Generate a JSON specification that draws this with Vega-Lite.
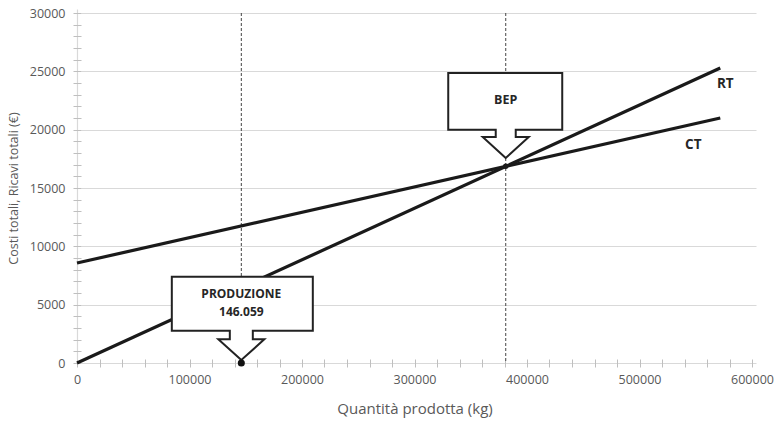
{
  "$schema": "https://vega.github.io/schema/vega-lite/v6.json",
  "width": 675,
  "height": 350,
  "autosize": {"type": "none"},
  "padding": {"left": 77, "top": 13, "right": 26, "bottom": 62},
  "background": "white",
  "config": {
    "view": {"stroke": null},
    "font": "Open Sans",
    "axis": {
      "labelFont": "Open Sans",
      "titleFont": "Open Sans",
      "labelColor": "#595959",
      "titleColor": "#595959",
      "labelFontSize": 12.5,
      "titleFontWeight": "normal",
      "domain": false,
      "tickColor": "#bfbfbf",
      "tickSize": 8,
      "tickCount": 100,
      "offset": -4,
      "gridColor": "#d9d9d9",
      "gridWidth": 1.2,
      "labelOverlap": false,
      "labelFlush": false
    }
  },
  "datasets": {
    "lines": [
      {"serie": "CT", "q": 0, "v": 8570},
      {"serie": "CT", "q": 571800, "v": 21000},
      {"serie": "RT", "q": 0, "v": 0},
      {"serie": "RT", "q": 571800, "v": 25290}
    ],
    "vlines": [{"q": 146059}, {"q": 381100}],
    "bep": [{"q": 381100, "v": 16855, "label": "BEP"}],
    "prod": [{"q": 146059, "v": 0, "label": ["PRODUZIONE", "146.059"]}],
    "rtend": [{"serie": "RT", "q": 571800, "v": 25290}],
    "ctend": [{"serie": "CT", "q": 571800, "v": 21000}]
  },
  "layer": [
    {
      "data": {"name": "vlines"},
      "mark": {"type": "rule", "color": "#444444", "strokeWidth": 1, "strokeDash": [3, 2]},
      "encoding": {
        "x": {
          "field": "q", "type": "quantitative",
          "scale": {"domain": [0, 600000], "nice": false, "zero": false},
          "axis": {
            "title": "Quantità prodotta (kg)",
            "titleFontSize": 15,
            "titlePadding": 16,
            "labelPadding": 6,
            "values": [0,20000,40000,60000,80000,100000,120000,140000,160000,180000,200000,220000,240000,260000,280000,300000,320000,340000,360000,380000,400000,420000,440000,460000,480000,500000,520000,540000,560000,580000,600000],
            "labelExpr": "datum.value % 100000 === 0 ? format(datum.value, 'd') : ''",
            "grid": true,
            "gridOpacity": {"condition": {"test": "datum.value === 0", "value": 1}, "value": 0}
          }
        }
      }
    },
    {
      "data": {"name": "lines"},
      "mark": {"type": "line", "color": "#1a1a1a", "strokeWidth": 3.2},
      "encoding": {
        "x": {"field": "q", "type": "quantitative"},
        "y": {
          "field": "v", "type": "quantitative",
          "scale": {"domain": [0, 30000], "nice": false},
          "axis": {
            "title": "Costi totali, Ricavi totali (€)",
            "titleFontSize": 12.5,
            "titlePadding": 9,
            "labelPadding": 8,
            "values": [0,1000,2000,3000,4000,5000,6000,7000,8000,9000,10000,11000,12000,13000,14000,15000,16000,17000,18000,19000,20000,21000,22000,23000,24000,25000,26000,27000,28000,29000,30000],
            "labelExpr": "datum.value % 5000 === 0 ? format(datum.value, 'd') : ''",
            "grid": true,
            "gridOpacity": {"condition": {"test": "datum.value % 5000 === 0", "value": 1}, "value": 0}
          }
        },
        "detail": {"field": "serie"}
      }
    },
    {
      "data": {"name": "bep"},
      "mark": {"type": "point", "filled": true, "color": "#1a1a1a", "size": 30, "opacity": 1},
      "encoding": {
        "x": {"field": "q", "type": "quantitative"},
        "y": {"field": "v", "type": "quantitative"}
      }
    },
    {
      "data": {"name": "bep"},
      "mark": {
        "type": "point", "filled": true, "fill": "white", "stroke": "#222222", "strokeWidth": 2, "opacity": 1, "size": 400,
        "shape": "M0,-0.84 L-2.3,-2.94 L-1,-2.94 L-1,-3.67 L-5.75,-3.67 L-5.75,-9.34 L5.65,-9.34 L5.65,-3.67 L1,-3.67 L1,-2.94 L2.3,-2.94 Z"
      },
      "encoding": {
        "x": {"field": "q", "type": "quantitative"},
        "y": {"field": "v", "type": "quantitative"}
      }
    },
    {
      "data": {"name": "prod"},
      "mark": {
        "type": "point", "filled": true, "fill": "white", "stroke": "#222222", "strokeWidth": 2, "opacity": 1, "size": 400,
        "shape": "M0,-0.3 L-2.3,-2.37 L-1.15,-2.37 L-1.15,-3.23 L-6.95,-3.23 L-6.95,-8.63 L7.15,-8.63 L7.15,-3.23 L1.15,-3.23 L1.15,-2.37 L2.3,-2.37 Z"
      },
      "encoding": {
        "x": {"field": "q", "type": "quantitative"},
        "y": {"field": "v", "type": "quantitative"}
      }
    },
    {
      "data": {"name": "prod"},
      "mark": {"type": "point", "filled": true, "color": "#111111", "size": 50, "opacity": 1},
      "encoding": {
        "x": {"field": "q", "type": "quantitative"},
        "y": {"field": "v", "type": "quantitative"}
      }
    },
    {
      "data": {"name": "bep"},
      "mark": {"type": "text", "font": "Open Sans", "fontWeight": "bold", "fontSize": 12.5, "color": "#262626", "dy": -66, "baseline": "middle", "align": "center"},
      "encoding": {
        "x": {"field": "q", "type": "quantitative"},
        "y": {"field": "v", "type": "quantitative"},
        "text": {"field": "label"}
      }
    },
    {
      "data": {"name": "prod"},
      "mark": {"type": "text", "font": "Open Sans", "fontWeight": "bold", "fontSize": 12, "lineHeight": 17.5, "color": "#262626", "dy": -69, "baseline": "middle", "align": "center"},
      "encoding": {
        "x": {"field": "q", "type": "quantitative"},
        "y": {"field": "v", "type": "quantitative"},
        "text": {"field": "label"}
      }
    },
    {
      "data": {"name": "rtend"},
      "mark": {"type": "text", "font": "Open Sans", "fontWeight": "bold", "fontSize": 13.5, "color": "#262626", "baseline": "middle", "align": "center", "dx": 5, "dy": 16},
      "encoding": {
        "x": {"field": "q", "type": "quantitative"},
        "y": {"field": "v", "type": "quantitative"},
        "text": {"field": "serie"}
      }
    },
    {
      "data": {"name": "ctend"},
      "mark": {"type": "text", "font": "Open Sans", "fontWeight": "bold", "fontSize": 13.5, "color": "#262626", "baseline": "middle", "align": "center", "dx": -27, "dy": 27},
      "encoding": {
        "x": {"field": "q", "type": "quantitative"},
        "y": {"field": "v", "type": "quantitative"},
        "text": {"field": "serie"}
      }
    }
  ]
}
